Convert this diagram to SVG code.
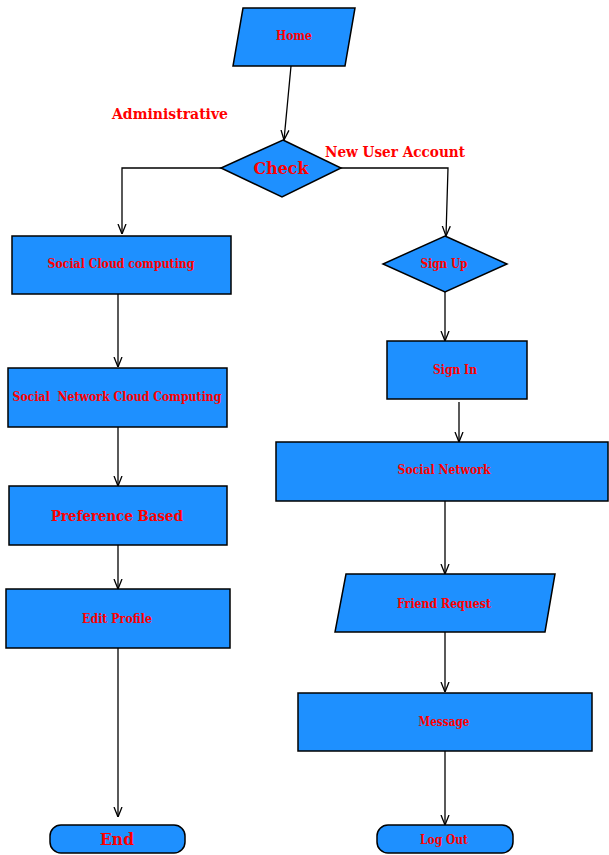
<svg xmlns="http://www.w3.org/2000/svg" width="609" height="855" viewBox="0 0 609 855">
<style>
.shape{fill:#1E90FF;stroke:#000;stroke-width:1.5}
.t{font-family:"DejaVu Serif","Liberation Serif",serif;font-weight:bold;fill:#FF0000;text-anchor:middle}
.s{font-size:12px}
.m{font-size:15px}
.l{font-size:17px}
.c{fill:none;stroke:#000;stroke-width:1.3}
</style>
<defs>
<marker id="arr" viewBox="0 0 10 10" refX="10" refY="5" markerWidth="10" markerHeight="10" markerUnits="userSpaceOnUse" orient="auto">
<path d="M0,1 L10,5 L0,9" fill="none" stroke="#000" stroke-width="1.3"/>
</marker>
</defs>
<rect width="609" height="855" fill="#fff"/>
<g id="connectors">
<path class="c" d="M291,66 L284,140" marker-end="url(#arr)"/>
<path class="c" d="M221,168 L122,168 L122,234" marker-end="url(#arr)"/>
<path class="c" d="M341,168 L448,168 L446,236" marker-end="url(#arr)"/>
<path class="c" d="M118,294 L118,367" marker-end="url(#arr)"/>
<path class="c" d="M118,427 L118,486" marker-end="url(#arr)"/>
<path class="c" d="M118,545 L118,589" marker-end="url(#arr)"/>
<path class="c" d="M118,648 L118,817" marker-end="url(#arr)"/>
<path class="c" d="M445,292 L445,341" marker-end="url(#arr)"/>
<path class="c" d="M459,402 L459,442" marker-end="url(#arr)"/>
<path class="c" d="M445,501 L445,574" marker-end="url(#arr)"/>
<path class="c" d="M445,632 L445,692" marker-end="url(#arr)"/>
<path class="c" d="M445,751 L445,825" marker-end="url(#arr)"/>
</g>
<g id="label-admin"><text class="t m" x="170" y="119" textLength="116" lengthAdjust="spacingAndGlyphs">Administrative</text></g>
<g id="label-new"><text class="t m" x="395" y="157" textLength="140" lengthAdjust="spacingAndGlyphs">New User Account</text></g>
<g id="home">
<polygon class="shape" points="243,8 355,8 345,66 233,66"/>
<text class="t s" x="294" y="40" textLength="36" lengthAdjust="spacingAndGlyphs">Home</text>
</g>
<g id="check">
<polygon class="shape" points="283,140 341,168 282,197 221,168"/>
<text class="t l" x="281" y="174" textLength="55" lengthAdjust="spacingAndGlyphs">Check</text>
</g>
<g id="social-cloud">
<rect class="shape" x="12" y="236" width="219" height="58"/>
<text class="t s" x="121" y="268" textLength="147" lengthAdjust="spacingAndGlyphs">Social Cloud computing</text>
</g>
<g id="social-network-cloud">
<rect class="shape" x="8" y="368" width="219" height="59"/>
<text class="t s" x="117" y="401" textLength="209" lengthAdjust="spacingAndGlyphs" xml:space="preserve">Social  Network Cloud Computing</text>
</g>
<g id="preference">
<rect class="shape" x="9" y="486" width="218" height="59"/>
<text class="t m" x="117" y="521" textLength="132" lengthAdjust="spacingAndGlyphs">Preference Based</text>
</g>
<g id="edit-profile">
<rect class="shape" x="6" y="589" width="224" height="59"/>
<text class="t s" x="117" y="623" textLength="70" lengthAdjust="spacingAndGlyphs">Edit Profile</text>
</g>
<g id="end">
<rect class="shape" x="50" y="825" width="135" height="28" rx="11" ry="11"/>
<text class="t l" x="117" y="845" textLength="34" lengthAdjust="spacingAndGlyphs">End</text>
</g>
<g id="sign-up">
<polygon class="shape" points="445,236 507,264 445,292 383,264"/>
<text class="t s" x="444" y="268" textLength="47" lengthAdjust="spacingAndGlyphs">Sign Up</text>
</g>
<g id="sign-in">
<rect class="shape" x="387" y="341" width="140" height="58"/>
<text class="t s" x="455" y="374" textLength="44" lengthAdjust="spacingAndGlyphs">Sign In</text>
</g>
<g id="social-network">
<rect class="shape" x="276" y="442" width="332" height="59"/>
<text class="t s" x="444" y="474" textLength="93" lengthAdjust="spacingAndGlyphs">Social Network</text>
</g>
<g id="friend-request">
<polygon class="shape" points="346,574 555,574 545,632 335,632"/>
<text class="t s" x="444" y="608" textLength="94" lengthAdjust="spacingAndGlyphs">Friend Request</text>
</g>
<g id="message">
<rect class="shape" x="298" y="693" width="294" height="58"/>
<text class="t s" x="444" y="726" textLength="51" lengthAdjust="spacingAndGlyphs">Message</text>
</g>
<g id="log-out">
<rect class="shape" x="377" y="825" width="136" height="28" rx="11" ry="11"/>
<text class="t s" x="444" y="844" textLength="48" lengthAdjust="spacingAndGlyphs">Log Out</text>
</g>
</svg>
